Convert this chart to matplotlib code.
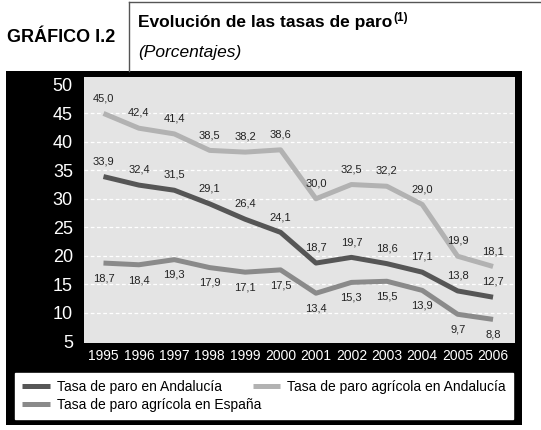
import matplotlib.pyplot as plt
from matplotlib.patches import Rectangle
from matplotlib.lines import Line2D

years = [1995, 1996, 1997, 1998, 1999, 2000, 2001, 2002, 2003, 2004, 2005, 2006]
paro_andalucia = [33.9, 32.4, 31.5, 29.1, 26.4, 24.1, 18.7, 19.7, 18.6, 17.1, 13.8, 12.7]
paro_agricola_andalucia = [45.0, 42.4, 41.4, 38.5, 38.2, 38.6, 30.0, 32.5, 32.2, 29.0, 19.9, 18.1]
paro_agricola_espana = [18.7, 18.4, 19.3, 17.9, 17.1, 17.5, 13.4, 15.3, 15.5, 13.9, 9.7, 8.8]
yticks = [5, 10, 15, 20, 25, 30, 35, 40, 45, 50]

series = [
    ("Tasa de paro en Andalucía", paro_andalucia, "#565656", 1),
    ("Tasa de paro agrícola en Andalucía", paro_agricola_andalucia, "#b2b2b2", 1),
    ("Tasa de paro agrícola en España", paro_agricola_espana, "#8a8a8a", -1),
]

plt.rcParams['font.family'] = ['Liberation Sans', 'DejaVu Sans']

W, H = 541, 430
fig = plt.figure(figsize=(W / 100, H / 100), dpi=100)

def fx(px):
    return px / W

def fy(py):
    return 1 - py / H

# black panel and header frame
fig.patches.append(Rectangle((fx(6), fy(425)), fx(516), (425 - 71) / H,
                             transform=fig.transFigure, facecolor="black", edgecolor="none", zorder=-5))
fig.add_artist(Line2D([fx(129), fx(129)], [fy(71), fy(2)], color="#555555", lw=1))
fig.add_artist(Line2D([fx(129), fx(541)], [fy(2), fy(2)], color="#555555", lw=1))

fig.text(fx(7), fy(37), "GRÁFICO I.2", fontsize=13, fontweight="bold", va="center", ha="left")
title = fig.text(fx(138), fy(22), "Evolución de las tasas de paro", fontsize=12.5,
                 fontweight="bold", va="center", ha="left")
fig.text(fx(138), fy(52), "(Porcentajes)", fontsize=12.5, style="italic", va="center", ha="left")

ax = fig.add_axes([fx(84), fy(343), (515 - 84) / W, (343 - 77) / H])
ax.set_zorder(2)
ax.set_facecolor("#e4e4e4")
ax.set_xlim(1995 - 0.55, 2006 + 0.62)
ax.set_ylim(4.65, 51.4)

ax.annotate("(1)", xy=(1, 1), xycoords=title, xytext=(1, 2), textcoords="offset points",
            ha="left", va="top", fontsize=8.5, fontweight="bold", annotation_clip=False)

for y in yticks[1:-1]:
    ax.axhline(y, color="white", lw=0.9, ls=(0, (3, 2)), zorder=1)

handles = []
for name, vals, col, side in series:
    ln, = ax.plot(years, vals, color=col, lw=3.6, label=name, zorder=3, solid_capstyle="butt")
    handles.append(ln)
    for x, v in zip(years, vals):
        ax.annotate(f"{v:.1f}".replace(".", ","), (x, v), xytext=(0, 11 * side),
                    textcoords="offset points", ha="center", va="center",
                    fontsize=8, color="#222222", zorder=4)

ax.set_xticks(years)
ax.set_xticklabels([str(y) for y in years])
ax.set_yticks(yticks)
ax.tick_params(axis="both", length=0, colors="white")
ax.tick_params(axis="x", labelsize=10, pad=4)
ax.tick_params(axis="y", labelsize=13, pad=8)
for s in ax.spines.values():
    s.set_visible(False)

h = [handles[0], handles[2], handles[1]]
leg = ax.legend(h, [l.get_label() for l in h], ncol=2, loc="lower left",
                bbox_to_anchor=(fx(15), fy(419), (513 - 15) / W, (419 - 372) / H),
                bbox_transform=fig.transFigure, mode="expand", frameon=True,
                fancybox=False, facecolor="white", edgecolor="white", framealpha=1,
                fontsize=10, handlelength=2.0, borderaxespad=0, handletextpad=0.5,
                labelspacing=0.3, borderpad=0.5)

fig.savefig("out.png", dpi=100)
